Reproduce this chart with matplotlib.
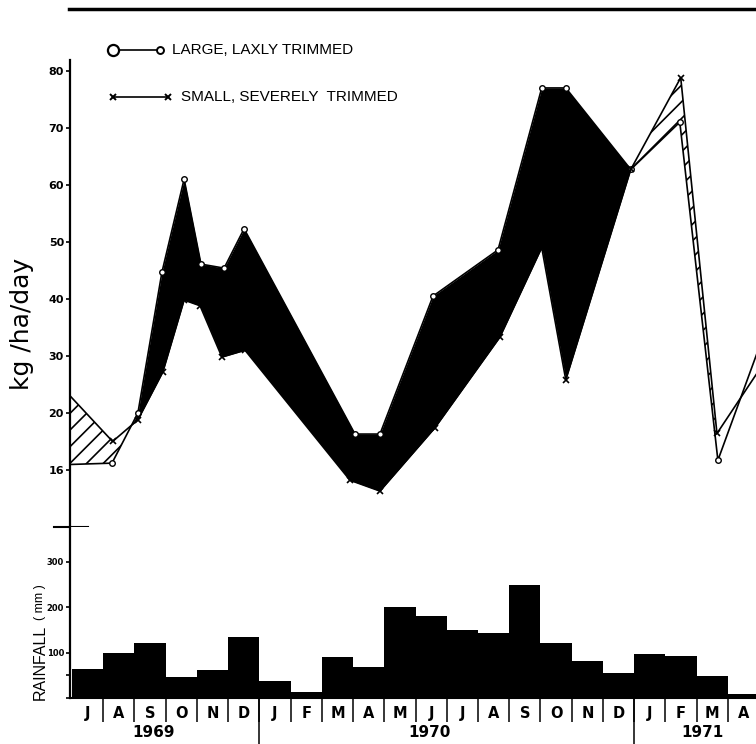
import numpy as np
import matplotlib.pyplot as plt
from matplotlib.lines import Line2D

# mes 0 = inicio de julio 1969
large_m = [-1.0, 1.28, 2.11, 2.88, 3.59, 4.13, 4.87, 5.51, 9.06, 9.86, 11.56,
           13.64, 15.04, 15.81, 17.89, 19.46, 20.68, 22.3]
large_v = [10.8, 11.2, 20.0, 44.7, 61.0, 46.1, 45.4, 52.3, 16.3, 16.3, 40.5,
           48.6, 77.0, 77.0, 62.7, 71.0, 11.7, 36.0]

small_m = [-1.0, 1.3, 2.11, 2.91, 3.59, 4.10, 4.80, 5.54, 8.9, 9.86, 11.62,
           13.7, 15.04, 15.81, 17.89, 19.49, 20.65, 22.3]
small_v = [28.5, 15.0, 18.8, 27.2, 39.8, 38.8, 29.8, 31.0, 8.2, 6.3, 17.4,
           33.3, 49.0, 25.8, 62.7, 78.8, 16.4, 30.0]

months = ['J', 'A', 'S', 'O', 'N', 'D', 'J', 'F', 'M', 'A', 'M',
          'J', 'J', 'A', 'S', 'O', 'N', 'D', 'J', 'F', 'M', 'A']
rain = [65, 100, 121, 46, 62, 134, 38, 14, 91, 69, 200,
        181, 150, 144, 249, 121, 82, 56, 96, 93, 49, 8]

years = ['1969', '1970', '1971']
year_pos = [2.6, 11.46, 20.17]
year_breaks = [6, 18]

kg_ticks = [10, 20, 30, 40, 50, 60, 70, 80]
kg_labels = ['16', '20', '30', '40', '50', '60', '70', '80']

W, H = 756, 744
fig = plt.figure(figsize=(7.56, 7.44), dpi=100)


def fx(px):
    return px / W


def fy(py):
    return 1 - py / H


left = fx(69.5)
width = 1 - left
ax = fig.add_axes([left, fy(527), width, fy(60) - fy(527)])
axr = fig.add_axes([left, fy(698), width, fy(527) - fy(698)])

xlim = (-0.08, 21.9)

# --- grafica superior ---
grid = np.union1d(large_m[:-1], small_m[:-1])
grid = grid[grid <= min(large_m[-2], small_m[-2])]
gl = np.interp(grid, large_m, large_v)
gs = np.interp(grid, small_m, small_v)
ax.fill_between(grid, gl, gs, where=gl >= gs, interpolate=True,
                color='black', lw=0)
plt.rcParams['hatch.linewidth'] = 1.2
ax.fill_between(grid, gl, gs, where=gs > gl, interpolate=True,
                facecolor='white', edgecolor='black', hatch='//', lw=0)

ax.plot(large_m, large_v, color='black', lw=1.2, marker='o', ms=4,
        mfc='white', mec='black', mew=1, zorder=3)
ax.plot(small_m, small_v, color='black', lw=1.2, marker='x', ms=5,
        mew=1.2, zorder=3)

ax.set_xlim(*xlim)
ax.set_ylim(0, 81.9)
for s in ['top', 'right', 'bottom']:
    ax.spines[s].set_visible(False)
ax.spines['left'].set_linewidth(1.6)
ax.set_xticks([])
ax.set_yticks(kg_ticks)
ax.set_yticklabels(kg_labels)
ax.tick_params(axis='y', direction='out', length=3, width=1.2,
               labelsize=8, pad=1)
for l in ax.get_yticklabels():
    l.set_fontweight('bold')
ax.plot([-0.023, 0.027], [0, 0], transform=ax.transAxes, clip_on=False,
        color='black', lw=1.5)

# --- lluvia ---
axr.bar(range(len(rain)), rain, width=1, align='edge', color='black')
axr.set_xlim(*xlim)
axr.set_ylim(0, 377)
for s in ['top', 'right']:
    axr.spines[s].set_visible(False)
axr.spines['left'].set_linewidth(1.6)
axr.spines['bottom'].set_linewidth(1.5)
axr.set_yticks([0, 50, 100, 200, 300])
axr.set_yticklabels(['', '', '100', '200', '300'])
axr.tick_params(axis='y', direction='out', length=3, width=1.2,
                labelsize=6, pad=1)
for l in axr.get_yticklabels():
    l.set_fontweight('bold')
axr.set_xticks(range(1, len(months)))
axr.set_xticklabels([])
axr.tick_params(axis='x', direction='out', length=17, width=1.1)

tr = axr.get_xaxis_transform()
for i, lab in enumerate(months):
    axr.text(i + 0.5, -0.088, lab, transform=tr, ha='center', va='center',
             fontsize=10.5, fontweight='bold', clip_on=False)
for b in year_breaks:
    axr.plot([b, b], [0, -0.27], transform=tr, clip_on=False,
             color='black', lw=1.1)
for p, y in zip(year_pos, years):
    axr.text(p, -0.2, y, transform=tr, ha='center', va='center',
             fontsize=11, fontweight='semibold')

# --- textos y leyenda ---
fig.add_artist(Line2D([fx(69), 1], [fy(9), fy(9)], color='black', lw=2.5))

fig.add_artist(Line2D([fx(113), fx(160)], [fy(50), fy(50)], color='black', lw=1.2))
fig.add_artist(Line2D([fx(113)], [fy(50)], marker='o', ms=8, mfc='white',
                      mec='black', mew=1.6))
fig.add_artist(Line2D([fx(160)], [fy(50)], marker='o', ms=5, mfc='white',
                      mec='black', mew=1.4))
fig.text(fx(172), fy(50), 'LARGE, LAXLY TRIMMED', va='center',
         fontsize=11, family='Liberation Sans')

fig.add_artist(Line2D([fx(113), fx(168)], [fy(97), fy(97)], color='black',
                      lw=1.2, marker='x', ms=5, mew=1.4))
fig.text(fx(181), fy(97), 'SMALL, SEVERELY  TRIMMED', va='center',
         fontsize=11, family='Liberation Sans')

fig.text(fx(22), fy(324), 'kg /ha/day', rotation=90, ha='center',
         va='center', fontsize=18)
fig.text(fx(40), fy(662), 'RAINFALL', rotation=90, ha='center',
         va='center', fontsize=11.5, family='Liberation Sans')
fig.text(fx(40), fy(602), '( mm )', rotation=90, ha='center',
         va='center', fontsize=9, family='Liberation Sans')

fig.savefig('out.png', dpi=100)
